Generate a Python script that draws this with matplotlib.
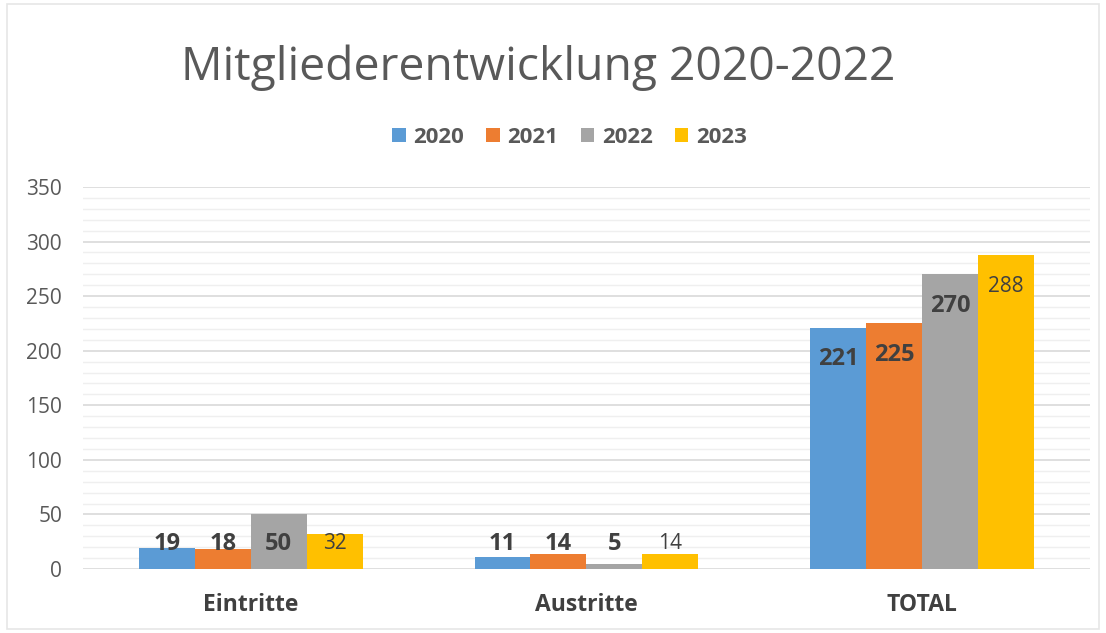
import numpy as np
import matplotlib.pyplot as plt
from matplotlib.patches import Rectangle

categories = ['Eintritte', 'Austritte', 'TOTAL']
years = ['2020', '2021', '2022', '2023']
values = {
    '2020': [19, 11, 221],
    '2021': [18, 14, 225],
    '2022': [50, 5, 270],
    '2023': [32, 14, 288],
}
colors = ['#5B9BD5', '#ED7D31', '#A5A5A5', '#FFC000']

plt.rcParams['font.family'] = ['Open Sans', 'DejaVu Sans']

fig = plt.figure(figsize=[11.06, 6.33], dpi=100)
ax = fig.add_axes([0.075, 0.101, 0.9105, 0.6036])

x = np.arange(len(categories))
w = 0.667 / 4
for i, yr in enumerate(years):
    pos = x + (i - 1.5) * w
    ax.bar(pos, values[yr], w, color=colors[i], label=yr, zorder=3)
    # data labels, inside end (pushed up to baseline for short bars)
    for px, v in zip(pos, values[yr]):
        ty = max(v - 29, 23)
        ax.text(px, ty, str(v), ha='center', va='center',
                fontsize=17 if yr != '2023' else 15,
                fontweight='bold' if yr != '2023' else 'normal',
                color='#404040', zorder=4)

ax.set_xlim(-0.5, 2.5)
ax.set_ylim(0, 350)
ax.set_yticks(np.arange(0, 351, 50))
ax.set_yticks(np.arange(0, 351, 10), minor=True)
ax.grid(axis='y', which='major', color='#d9d9d9', linewidth=1.2, zorder=0)
ax.grid(axis='y', which='minor', color='#efefef', linewidth=1, zorder=0)
ax.set_xticks(x)
ax.set_xticklabels(categories, fontsize=16.5, fontweight='bold', color='#404040')
ax.tick_params(axis='x', length=0, pad=17)
ax.tick_params(axis='y', which='both', length=0, labelsize=15, labelcolor='#595959', pad=15)
for s in ax.spines.values():
    s.set_visible(False)

fig.text(0.487, 0.893, 'Mitgliederentwicklung 2020-2022', ha='center', va='center',
         fontsize=33.3, color='#595959')
ax.legend(loc='center', bbox_to_anchor=(0.515, 0.783), bbox_transform=fig.transFigure,
          ncol=4, frameon=False, handlelength=0.6, handleheight=0.6,
          handletextpad=0.35, columnspacing=1.0,
          prop={'size': 16, 'weight': 'bold'}, labelcolor='#595959')

fig.patches.append(Rectangle((0.006, 0.006), 0.988, 0.988, transform=fig.transFigure,
                             fill=False, edgecolor='#e6e6e6', linewidth=1.2))

plt.savefig('out.png')
